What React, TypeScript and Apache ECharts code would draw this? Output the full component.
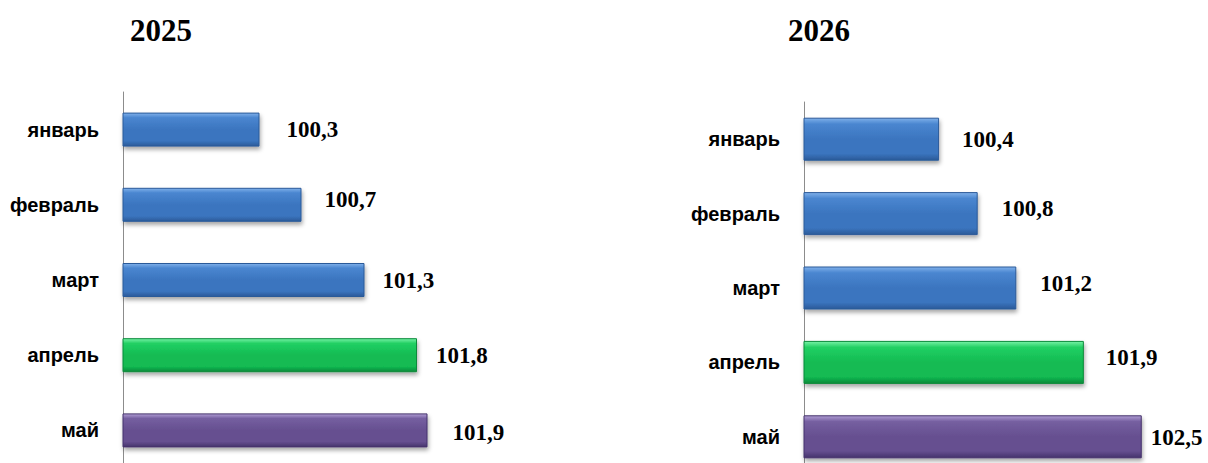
import React, { useEffect, useRef } from "react";
import * as echarts from "echarts";

const months = ["январь", "февраль", "март", "апрель", "май"];
const values2025 = [100.3, 100.7, 101.3, 101.8, 101.9];
const values2026 = [100.4, 100.8, 101.2, 101.9, 102.5];
const titles = ["2025", "2026"];
const labelGap2025 = [27, 23, 18, 19, 25];
const labelGap2026 = [23, 24, 24, 22, 9];
const labelShift2025 = [0, -5, 0, 0, 2];
const labelShift2026 = [0, -5, -5, -5, 1];

const blue = ["#7fb0ea", "#4a86d0", "#3b75bf", "#2b5a99"];
const green = ["#78f2a6", "#22d064", "#12bb52", "#0b8a3a"];
const purple = ["#b09dd4", "#755fa0", "#664f90", "#45336c"];
const palette = [blue, blue, blue, green, purple];

function grad(c: string[]) {
  return new echarts.graphic.LinearGradient(0, 0, 0, 1, [
    { offset: 0, color: c[0] },
    { offset: 0.14, color: c[1] },
    { offset: 0.5, color: c[2] },
    { offset: 0.84, color: c[2] },
    { offset: 1, color: c[3] },
  ]);
}

function buildData(vals: number[], gaps: number[], shifts: number[]) {
  return vals.map((v, i) => ({
    value: v,
    itemStyle: {
      color: grad(palette[i]),
      borderColor: palette[i][3],
      borderWidth: 1,
    },
    label: { distance: gaps[i], offset: [0, shifts[i]] },
  }));
}

export default function App() {
  const ref = useRef<HTMLDivElement>(null);
  useEffect(() => {
    document.body.style.margin = "0";
    document.body.style.overflow = "hidden";
    const chart = echarts.init(ref.current!, null, { renderer: "svg" });
    const catAxis = (gridIndex: number) => ({
      type: "category",
      gridIndex,
      data: months,
      inverse: true,
      axisLine: { show: true, lineStyle: { color: "#8c8c8c", width: 1 } },
      axisTick: { show: false },
      axisLabel: {
        margin: 24,
        color: "#000",
        fontFamily: "Liberation Sans",
        fontWeight: "bold",
        fontSize: 20,
      },
    });
    const valAxis = (gridIndex: number, max: number) => ({
      type: "value",
      gridIndex,
      min: 99,
      max,
      show: false,
      splitLine: { show: false },
    });
    const labelStyle = {
      show: true,
      position: "right",
      color: "#000",
      fontFamily: "Liberation Serif",
      fontWeight: "bold",
      fontSize: 23,
      formatter: (p: any) => String(p.value).replace(".", ","),
    };
    const titleText = { fontFamily: "Liberation Serif", fontWeight: "bold", fontSize: 31, color: "#000" };
    chart.setOption({
      animation: false,
      backgroundColor: "#fff",
      title: [
        { text: titles[0], left: 125, top: 10, textStyle: titleText },
        { text: titles[1], left: 783, top: 10, textStyle: titleText },
      ],
      grid: [
        { left: 123, top: 92, width: 315, height: 376 },
        { left: 804, top: 102, width: 386, height: 372 },
      ],
      xAxis: [valAxis(0, 102), valAxis(1, 103)],
      yAxis: [catAxis(0), catAxis(1)],
      series: [
        {
          type: "bar",
          xAxisIndex: 0,
          yAxisIndex: 0,
          barWidth: 34,
          data: buildData(values2025, labelGap2025, labelShift2025),
          label: labelStyle,
          itemStyle: { shadowColor: "rgba(0,0,0,0.35)", shadowBlur: 4, shadowOffsetY: 3, shadowOffsetX: 1 },
        },
        {
          type: "bar",
          xAxisIndex: 1,
          yAxisIndex: 1,
          barWidth: 43,
          data: buildData(values2026, labelGap2026, labelShift2026),
          label: labelStyle,
          itemStyle: { shadowColor: "rgba(0,0,0,0.35)", shadowBlur: 4, shadowOffsetY: 3, shadowOffsetX: 1 },
        },
      ],
    });
    return () => chart.dispose();
  }, []);
  return <div ref={ref} style={{ width: 1208, height: 490 }} />;
}
